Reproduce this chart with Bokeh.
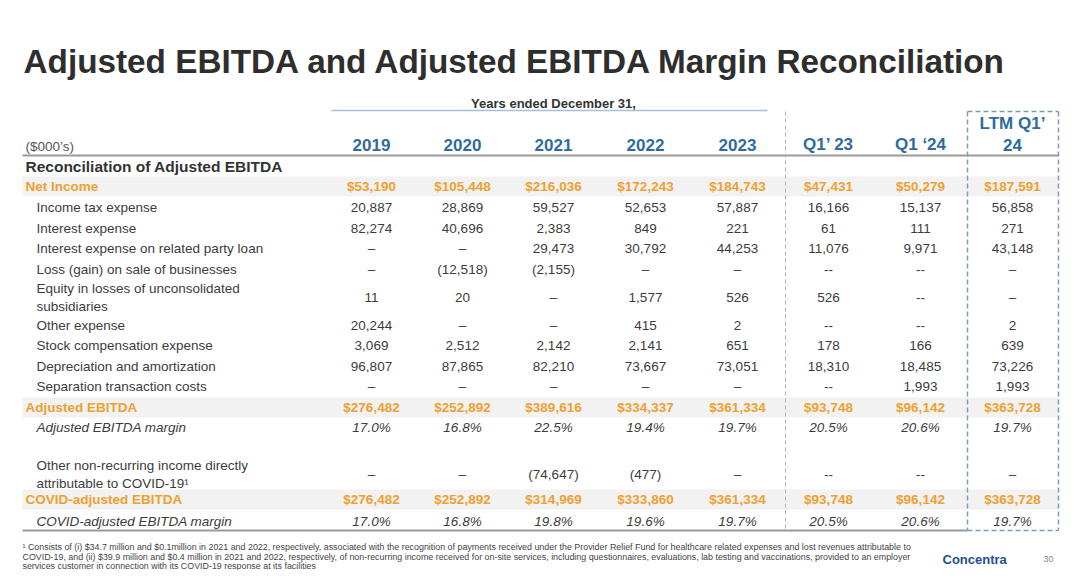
from bokeh.plotting import figure
from bokeh.models import Range1d
from bokeh.core.properties import value
from bokeh.embed import file_html
from bokeh.resources import INLINE

# ---------------- data ----------------
title = "Adjusted EBITDA and Adjusted EBITDA Margin Reconciliation"
group_label = "Years ended December 31,"
units_label = "($000\u2019s)"
section_label = "Reconciliation of Adjusted EBITDA"
columns = ["2019", "2020", "2021", "2022", "2023", "Q1\u2019 23", "Q1 \u201824", "LTM Q1\u2019\n24"]
quarter_cols = [False, False, False, False, False, True, True, False]

row_labels = [
    "Net Income",
    "Income tax expense",
    "Interest expense",
    "Interest expense on related party loan",
    "Loss (gain) on sale of businesses",
    "Equity in losses of unconsolidated\nsubsidiaries",
    "Other expense",
    "Stock compensation expense",
    "Depreciation and amortization",
    "Separation transaction costs",
    "Adjusted EBITDA",
    "Adjusted EBITDA margin",
    "Other non-recurring income directly\nattributable to COVID-19\u00b9",
    "COVID-adjusted EBITDA",
    "COVID-adjusted EBITDA margin",
]
row_kinds = ["total", "item", "item", "item", "item", "item", "item", "item", "item", "item",
             "total", "margin", "item", "total", "margin"]

net_income = [53190, 105448, 216036, 172243, 184743, 47431, 50279, 187591]
income_tax = [20887, 28869, 59527, 52653, 57887, 16166, 15137, 56858]
interest_expense = [82274, 40696, 2383, 849, 221, 61, 111, 271]
interest_related_party = [None, None, 29473, 30792, 44253, 11076, 9971, 43148]
loss_gain_sale = [None, -12518, -2155, None, None, None, None, None]
equity_losses = [11, 20, None, 1577, 526, 526, None, None]
other_expense = [20244, None, None, 415, 2, None, None, 2]
stock_comp = [3069, 2512, 2142, 2141, 651, 178, 166, 639]
depreciation = [96807, 87865, 82210, 73667, 73051, 18310, 18485, 73226]
separation_costs = [None, None, None, None, None, None, 1993, 1993]
adjusted_ebitda = [276482, 252892, 389616, 334337, 361334, 93748, 96142, 363728]
adjusted_margin = [17.0, 16.8, 22.5, 19.4, 19.7, 20.5, 20.6, 19.7]
covid_income = [None, None, -74647, -477, None, None, None, None]
covid_adjusted_ebitda = [276482, 252892, 314969, 333860, 361334, 93748, 96142, 363728]
covid_adjusted_margin = [17.0, 16.8, 19.8, 19.6, 19.7, 20.5, 20.6, 19.7]

table = [net_income, income_tax, interest_expense, interest_related_party, loss_gain_sale,
         equity_losses, other_expense, stock_comp, depreciation, separation_costs,
         adjusted_ebitda, adjusted_margin, covid_income, covid_adjusted_ebitda, covid_adjusted_margin]

footnote = [
    "\u00b9 Consists of (i) $34.7 million and $0.1million in 2021 and 2022, respectively, associated with the recognition of payments received under the Provider Relief Fund for healthcare related expenses and lost revenues attributable to",
    "COVID-19, and (ii) $39.9 million and $0.4 million in 2021 and 2022, respectively, of non-recurring income received for on-site services, including questionnaires, evaluations, lab testing and vaccinations, provided to an employer",
    "services customer in connection with its COVID-19 response at its facilities",
]
logo_text = "Concentra"
page_number = "30"

# ---------------- layout / style ----------------
FONT = value("Liberation Sans")
DARK = "#333333"
BODY = "#3c3c3c"
BLUE = "#2f6b9e"
ORANGE = "#f0a030"
BAND = "#f2f2f2"

col_x = [371, 462, 553, 645, 737, 828, 920, 1012]
row_y = [186, 207, 228, 248, 269, 297, 325, 345, 366, 386, 407, 427, 474, 499, 521]
LEFT = 22
RIGHT = 1058

def fmt(v, kind, quarter):
    if v is None:
        return "--" if quarter else "\u2013"
    if kind == "margin":
        return f"{v:.1f}%"
    s = f"{abs(v):,}"
    if kind == "total":
        s = "$" + s
    if v < 0:
        s = "(" + s + ")"
    return s

p = figure(width=1064, height=570, x_range=Range1d(0, 1064), y_range=Range1d(570, 0),
           output_backend="svg", toolbar_location=None, min_border=0,
           x_axis_type=None, y_axis_type=None, background_fill_color="white",
           border_fill_color="white")
p.grid.visible = False
p.outline_line_color = None

# title
p.text(x=[23], y=[61], text=[title], text_font=FONT, text_font_size="33.3px",
       text_font_style="bold", text_color="#2e2e2e", text_baseline="alphabetic")

# group header + line
p.text(x=[553], y=[103], text=[group_label], text_font=FONT, text_font_size="13px",
       text_font_style="bold", text_color=DARK, text_align="center", text_baseline="middle")
p.segment(x0=[331], y0=[110], x1=[767], y1=[110], line_color="#a9bfd6", line_width=1.5)

# bands behind total rows
band_y = [row_y[i] for i, k in enumerate(row_kinds) if k == "total"]
p.rect(x=[(LEFT + RIGHT) / 2] * len(band_y), y=band_y, width=RIGHT - LEFT, height=20,
       fill_color=BAND, line_color=None)

# column headers
hx, hy, ht = [], [], []
for cx, name in zip(col_x, columns):
    lines = name.split("\n")
    n = len(lines)
    for j, ln in enumerate(lines):
        hx.append(cx)
        hy.append(144 - (n - 1 - j) * 21)
        ht.append(ln)
p.text(x=hx, y=hy, text=ht, text_font=FONT, text_font_size="17px", text_font_style="bold",
       text_color=BLUE, text_align="center", text_baseline="middle")

p.text(x=[25], y=[146], text=[units_label], text_font=FONT, text_font_size="13.5px",
       text_color="#555555", text_baseline="middle")
p.segment(x0=[LEFT], y0=[155], x1=[RIGHT], y1=[155], line_color="#9a9a9a", line_width=2)
p.text(x=[25], y=[166], text=[section_label], text_font=FONT, text_font_size="15.5px",
       text_font_style="bold", text_color=DARK, text_baseline="middle")

# row labels and values
styles = {
    "total": dict(color=ORANGE, style="bold", x=25),
    "item": dict(color=BODY, style="normal", x=36),
    "margin": dict(color=BODY, style="italic", x=36),
}
for kind, st in styles.items():
    lx, ly, lt = [], [], []
    for label, k, y in zip(row_labels, row_kinds, row_y):
        if k != kind:
            continue
        lines = label.split("\n")
        n = len(lines)
        for j, ln in enumerate(lines):
            lx.append(st["x"])
            ly.append(y + (j - (n - 1) / 2) * 17.5)
            lt.append(ln)
    p.text(x=lx, y=ly, text=lt, text_font=FONT, text_font_size="13.5px",
           text_font_style=st["style"], text_color=st["color"], text_baseline="middle")

    vx, vy, vt = [], [], []
    for vals, k, y in zip(table, row_kinds, row_y):
        if k != kind:
            continue
        for cx, v, q in zip(col_x, vals, quarter_cols):
            vx.append(cx)
            vy.append(y)
            vt.append(fmt(v, k, q))
    p.text(x=vx, y=vy, text=vt, text_font=FONT, text_font_size="13.5px",
           text_font_style=st["style"], text_color=st["color"], text_align="center",
           text_baseline="middle")

# bottom rule, separators
p.segment(x0=[LEFT], y0=[530], x1=[967], y1=[530], line_color="#9a9a9a", line_width=2)
p.segment(x0=[785], y0=[111], x1=[785], y1=[530], line_color="#b5b5b5", line_width=1,
          line_dash="4 3")
p.segment(x0=[967, 1058, 967, 967], y0=[111, 111, 111, 530], x1=[967, 1058, 1058, 1058],
          y1=[530, 530, 111, 530], line_color="#7d9aba", line_width=1.5, line_dash="5 3")

# footnote
p.text(x=[22] * len(footnote), y=[546.5 + 9.6 * i for i in range(len(footnote))], text=footnote,
       text_font=FONT, text_font_size="8.9px", text_color="#444444", text_baseline="middle")

# logo and page number
p.text(x=[942], y=[559], text=[logo_text], text_font=FONT, text_font_size="13px",
       text_font_style="bold", text_color="#1f4f8f", text_baseline="middle")
p.text(x=[1048], y=[558], text=[page_number], text_font=FONT, text_font_size="9px",
       text_color="#888888", text_align="center", text_baseline="middle")

open("out.html", "w").write(file_html(p, INLINE))
